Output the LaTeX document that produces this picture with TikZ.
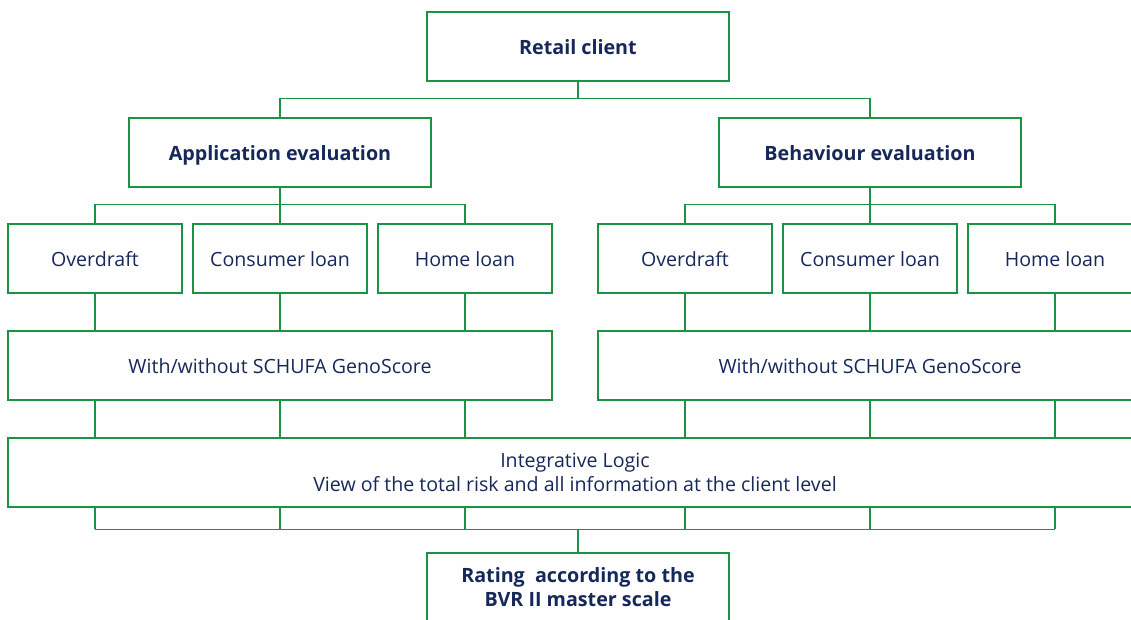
\documentclass[tikz,border=0pt]{standalone}
\usepackage{fontspec}
\setmainfont{Open Sans}
\usetikzlibrary{calc}
\definecolor{boxgreen}{RGB}{26,148,68}
\definecolor{navy}{RGB}{22,40,90}
\tikzset{
  box/.style={draw=boxgreen, line width=1.2pt, rectangle, inner sep=0pt,
    minimum height=69pt, align=center, text=navy, font=\fontsize{19.6}{24}\selectfont},
  oneline/.style={text height=15pt, text depth=0pt},
  head/.style={box, minimum width=302pt, font=\fontsize{19.7}{24}\selectfont\bfseries},
  leaf/.style={box, oneline, minimum width=174pt},
  wide/.style={box, oneline, minimum width=544pt},
  link/.style={draw=boxgreen, line width=1.2pt}
}
\begin{document}
\begin{tikzpicture}[x=1pt,y=1pt]
\useasboundingbox (0,0) rectangle (1131,-619);
\clip (0,0) rectangle (1131,-619);
% top level
\node[head, oneline] (retail) at (578,-46.5) {Retail client};
\node[head, oneline] (app) at (280,-152.5) {Application evaluation};
\node[head, oneline] (beh) at (870,-152.5) {Behaviour evaluation};
% products
\node[leaf] (ao) at (95,-258.5) {Overdraft};
\node[leaf] (ac) at (280,-258.5) {Consumer loan};
\node[leaf] (ah) at (465,-258.5) {Home loan};
\node[leaf] (bo) at (685,-258.5) {Overdraft};
\node[leaf] (bc) at (870,-258.5) {Consumer loan};
\node[leaf] (bh) at (1055,-258.5) {Home loan};
% score layers
\node[wide] (ag) at (280,-365.5) {With/without SCHUFA GenoScore};
\node[wide] (bg) at (870,-365.5) {With/without SCHUFA GenoScore};
\node[box, minimum width=1134pt] (il) at (575,-472.5) {Integrative Logic\\View of the total risk and all information at the client level};
\node[head, font=\fontsize{19.7}{24}\selectfont\bfseries] (rating) at (578,-587.5) {Rating\ \ according to the\\BVR II master scale};
% bus points
\coordinate (rbus) at ($(retail.south)+(0,-17)$);
\coordinate (abus) at ($(app.south)+(0,-17)$);
\coordinate (bbus) at ($(beh.south)+(0,-17)$);
\coordinate (lbus) at ($(rating.north)+(0,23)$);
% tree from client to evaluations
\draw[link] (retail.south) -- (rbus);
\draw[link] (app.north) |- (rbus) -| (beh.north);
% evaluations to products
\draw[link] (app.south) -- (abus);
\draw[link] (ao.north) |- (abus) -| (ah.north);
\draw[link] (ac.north) -- (abus);
\draw[link] (beh.south) -- (bbus);
\draw[link] (bo.north) |- (bbus) -| (bh.north);
\draw[link] (bc.north) -- (bbus);
% products down through the layers
\foreach \p/\g in {ao/ag, ac/ag, ah/ag, bo/bg, bc/bg, bh/bg}{
  \draw[link] (\p.south) -- (\p.south |- \g.north);
  \draw[link] (\p.south |- \g.south) -- (\p.south |- il.north);
  \draw[link] (\p.south |- il.south) -- (\p.south |- lbus);
}
\draw[link] (ao.south |- lbus) -- (bh.south |- lbus);
\draw[link] (rating.north) -- (lbus);
\end{tikzpicture}
\end{document}
